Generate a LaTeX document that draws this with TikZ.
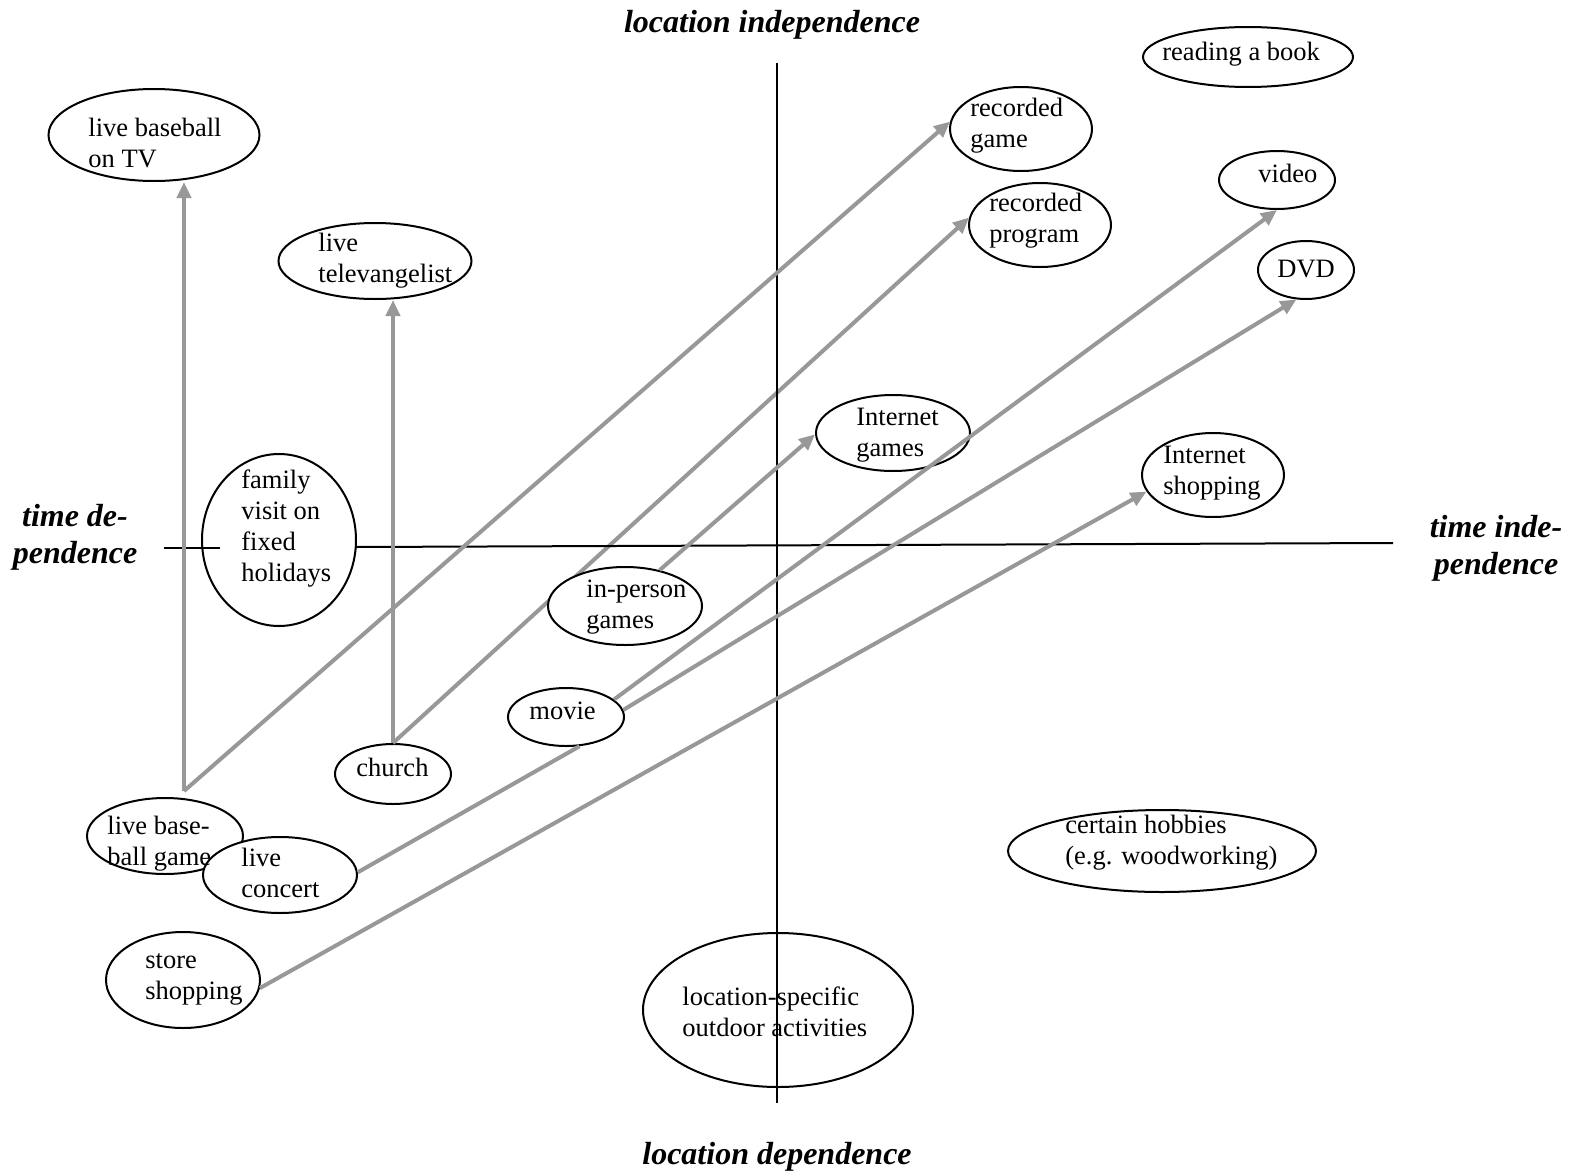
\documentclass[tikz,border=0pt]{standalone}
\usepackage{fontspec}
\setmainfont{Liberation Serif}
\usetikzlibrary{shapes.geometric,arrows.meta}
\definecolor{arrowgray}{RGB}{152,152,152}
\tikzset{
  lbl/.style={font=\fontsize{13.25pt}{15.5pt}\selectfont, align=left, inner sep=0pt, anchor=west, yshift=-1.5pt},
  oval/.style={ellipse, draw, line width=1pt, fill=white, inner sep=0pt},
  axlbl/.style={font=\fontsize{16pt}{18.4pt}\selectfont\bfseries\itshape, align=center, inner sep=0pt, yshift=-1.5pt},
  axis/.style={draw=black, line width=1pt},
  conn/.style={draw=arrowgray, line width=2pt},
  arr/.style={conn, -{Triangle[length=8pt,width=7pt]}}
}
\begin{document}
\begin{tikzpicture}[x=0.5pt,y=-0.5pt]
\fill[white] (0,0) rectangle (1576,1173);
\useasboundingbox (0,0) rectangle (1576,1173);

% ellipses
\node[oval, minimum width=58pt, minimum height=30pt] (chu) at (393,774) {};
\node[oval, minimum width=105.5pt, minimum height=46pt] (lbtv) at (154,135) {};
\node[oval, minimum width=96.5pt, minimum height=38pt] (tel) at (375,261) {};
\node[oval, minimum width=77pt, minimum height=86pt] (fam) at (279,540) {};
\node[oval, minimum width=71pt, minimum height=42pt] (rp) at (1040,225) {};

% connector that passes behind "in-person games"
\draw[arr] (chu.north) -- (rp.174);

\node[oval, minimum width=77pt, minimum height=39pt] (inp) at (625,606) {};
\node[oval, minimum width=58pt, minimum height=29pt] (mov) at (566,717) {};
\node[oval, minimum width=78pt, minimum height=38pt] (lbg) at (165,836) {};
\node[oval, minimum width=77pt, minimum height=38pt] (con) at (280,875) {};
\node[oval, minimum width=77pt, minimum height=48pt] (sto) at (183,980) {};
\node[oval, minimum width=135pt, minimum height=77pt] (loc) at (778,1010) {};
\node[oval, minimum width=154pt, minimum height=41pt] (hob) at (1162,851) {};
\node[oval, minimum width=71pt, minimum height=42pt] (ish) at (1213,475) {};
\node[oval, minimum width=77pt, minimum height=38pt] (ig) at (893,433) {};
\node[oval, minimum width=71pt, minimum height=42pt] (rg) at (1021,129) {};
\node[oval, minimum width=58pt, minimum height=29pt] (vid) at (1277,180) {};
\node[oval, minimum width=48pt, minimum height=29pt] (dvd) at (1306,270) {};
\node[oval, minimum width=105pt, minimum height=30pt] (book) at (1248,57) {};

% texts
\node[lbl] (lbtv-t) at (88,143) {\strut live baseball\\\strut on TV};
\node[lbl] (tel-t) at (318,258) {\strut live\\\strut televangelist};
\node[lbl] (fam-t) at (241,526) {\strut family\\\strut visit on\\\strut fixed\\\strut holidays};
\node[lbl] (inp-t) at (586,604) {\strut in-person\\\strut games};
\node[lbl] (mov-t) at (529,710) {\strut movie};
\node[lbl] (chu-t) at (356,767) {\strut church};
\node[lbl] (lbg-t) at (107,841) {\strut live base-\\\strut ball game};
\node[lbl] (con-t) at (241,873) {\strut live\\\strut concert};
\node[lbl] (sto-t) at (145,975) {\strut store\\\strut shopping};
\node[lbl] (loc-t) at (682,1012) {\strut location-specific\\\strut outdoor activities};
\node[lbl] (hob-t) at (1065,840) {\strut certain hobbies\\\strut (e.g. woodworking)};
\node[lbl] (ish-t) at (1163,470) {\strut Internet\\\strut shopping};
\node[lbl] (ig-t) at (856,432) {\strut Internet\\\strut games};
\node[lbl] (rg-t) at (970,123) {\strut recorded\\\strut game};
\node[lbl] (rp-t) at (989,218) {\strut recorded\\\strut program};
\node[lbl] (vid-t) at (1258,173) {\strut video};
\node[lbl] (dvd-t) at (1277,268) {\strut DVD};
\node[lbl] (book-t) at (1162,51) {\strut reading a book};

% axes
\draw[axis] (164,548) -- (220,548);
\draw[axis] (356,547) -- (1393,543);
\draw[axis] (777,63) -- (777,1103);

% axis labels
\node[axlbl] (ax-li) at (772,22) {location independence};
\node[axlbl] (ax-ld) at (777,1154) {location dependence};
\node[axlbl] (ax-td) at (75,534) {time de-\\pendence};
\node[axlbl] (ax-ti) at (1496,545) {time inde-\\pendence};

% connectors
\coordinate (lbgtop) at ([shift={(19,-6)}]lbg.north);
\draw[arr] (lbgtop) -- (lbgtop |- lbtv.south);
\draw[arr] (lbgtop) -- (rg.174);
\draw[arr] (chu.north) -- (chu.north |- tel.south);
\draw[arr] (inp.46) -- (ig.181);
\draw[arr] (mov.20) -- (vid.south);
\draw[arr] (mov.7) -- (dvd.-108);
\draw[conn] (con.2) -- (mov.-65);
\draw[arr] (sto.-6) -- (ish.-166);
\end{tikzpicture}
\end{document}
